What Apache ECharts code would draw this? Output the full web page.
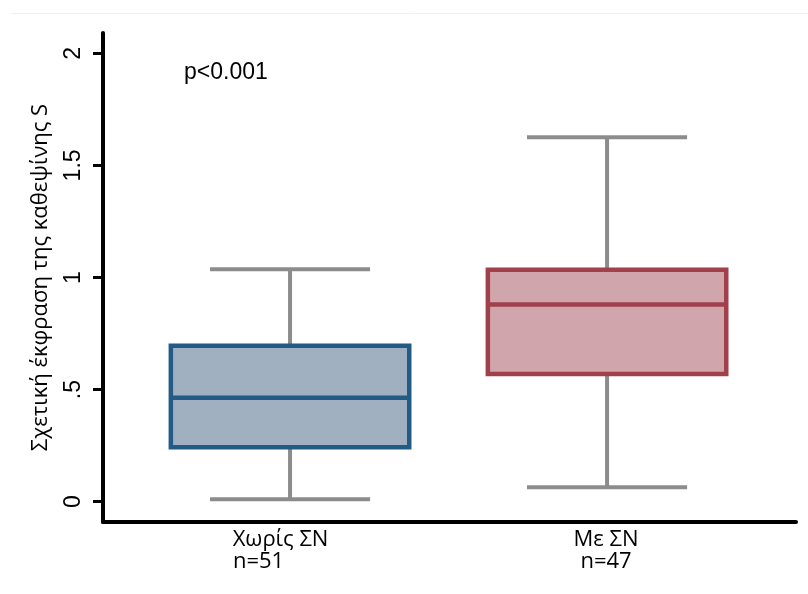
<!DOCTYPE html>
<html>
<head>
<meta charset="utf-8">
<script src="https://cdn.jsdelivr.net/npm/echarts@6/dist/echarts.min.js"></script>
<style>html,body{margin:0;padding:0;background:#fff}#c{width:808px;height:594px}</style>
</head>
<body>
<div id="c"></div>
<script>
// ---- data ----
const categories = ['Χωρίς ΣΝ', 'Με ΣΝ'];
const sampleSizes = ['n=51', 'n=47'];
const whiskerLow = [0.011, 0.064];
const q1 = [0.243, 0.570];
const median = [0.464, 0.880];
const q3 = [0.696, 1.035];
const whiskerHigh = [1.037, 1.625];
const yTicks = [0, 0.5, 1, 1.5, 2];
const yTickLabels = ['0', '.5', '1', '1.5', '2'];
const yTitle = 'Σχετική έκφραση της καθεψίνης S';
const pText = 'p<0.001';

// ---- styles ----
const boxFill = ['#a1b0c1', '#d1a5ac'];
const boxStroke = ['#215b86', '#a0404b'];
const whiskerColor = '#8c8c8c';
const boxWidth = 0.752;
const capWidth = 0.505;

const chart = echarts.init(document.getElementById('c'), null, {renderer: 'canvas'});
const data = categories.map((c, i) => [i + 1, whiskerLow[i], q1[i], median[i], q3[i], whiskerHigh[i]]);

const lblFont = {fontFamily: 'Open Sans', fontSize: 22, color: '#000', lineHeight: 22};

chart.setOption({
  backgroundColor: '#fff',
  animation: false,
  graphic: [{
    type: 'line', shape: {x1: 11, y1: 13.5, x2: 808, y2: 13.5},
    style: {stroke: '#f0f0f0', lineWidth: 1}, silent: true
  }],
  title: {
    text: pText, left: 184, top: 61, padding: 0,
    textStyle: {fontFamily: 'Liberation Sans', fontSize: 23, fontWeight: 'normal', color: '#000'}
  },
  grid: {left: 103, right: 12, top: 33, bottom: 72, containLabel: false},
  xAxis: {
    type: 'value', min: 0.41, max: 2.596,
    axisLine: {show: true, onZero: false, lineStyle: {color: '#000', width: 4}},
    axisTick: {show: false},
    splitLine: {show: false},
    axisLabel: {
      customValues: [1, 2],
      margin: 7,
      formatter: v => v === 1
        ? '{a|' + categories[0] + '}\n{b|' + sampleSizes[0] + '}'
        : '{c|' + categories[1] + '}\n{c|' + sampleSizes[1] + '}',
      rich: {
        a: Object.assign({padding: [0, 19, 0, 0]}, lblFont),
        b: Object.assign({padding: [0, 63, 0, 0]}, lblFont),
        c: Object.assign({padding: [0, 2, 0, 0]}, lblFont)
      }
    }
  },
  yAxis: {
    type: 'value', min: -0.0905, max: 2.0905,
    name: yTitle, nameLocation: 'middle', nameRotate: 90, nameGap: 51,
    nameTextStyle: {fontFamily: 'Open Sans', fontSize: 22, color: '#000'},
    axisLine: {show: true, onZero: false, lineStyle: {color: '#000', width: 4}},
    axisTick: {show: true, customValues: yTicks, length: 10, lineStyle: {color: '#000', width: 3}},
    splitLine: {show: false},
    axisLabel: {
      customValues: yTicks, rotate: 90, margin: 18,
      fontFamily: 'Liberation Sans', fontSize: 23, color: '#000',
      formatter: v => yTickLabels[yTicks.indexOf(v)]
    }
  },
  series: [{
    type: 'custom',
    data: data,
    encode: {x: 0, y: [1, 2, 3, 4, 5]},
    renderItem: function (params, api) {
      const i = params.dataIndex;
      const x = api.value(0);
      const pLo = api.coord([x, api.value(1)]);
      const pQ1 = api.coord([x, api.value(2)]);
      const pMed = api.coord([x, api.value(3)]);
      const pQ3 = api.coord([x, api.value(4)]);
      const pHi = api.coord([x, api.value(5)]);
      const hb = api.size([boxWidth, 0])[0] / 2;
      const hc = api.size([capWidth, 0])[0] / 2;
      const cx = pLo[0];
      const wStyle = {stroke: whiskerColor, lineWidth: 4};
      return {
        type: 'group',
        children: [
          {type: 'line', shape: {x1: cx, y1: pLo[1], x2: cx, y2: pQ1[1]}, style: wStyle},
          {type: 'line', shape: {x1: cx - hc, y1: pLo[1], x2: cx + hc, y2: pLo[1]}, style: wStyle},
          {type: 'line', shape: {x1: cx, y1: pHi[1], x2: cx, y2: pQ3[1]}, style: wStyle},
          {type: 'line', shape: {x1: cx - hc, y1: pHi[1], x2: cx + hc, y2: pHi[1]}, style: wStyle},
          {type: 'rect', shape: {x: cx - hb, y: pQ3[1], width: 2 * hb, height: pQ1[1] - pQ3[1]},
            style: {fill: boxFill[i], stroke: boxStroke[i], lineWidth: 4.5}},
          {type: 'line', shape: {x1: cx - hb, y1: pMed[1], x2: cx + hb, y2: pMed[1]},
            style: {stroke: boxStroke[i], lineWidth: 4.5}}
        ]
      };
    }
  }]
});
</script>
</body>
</html>
